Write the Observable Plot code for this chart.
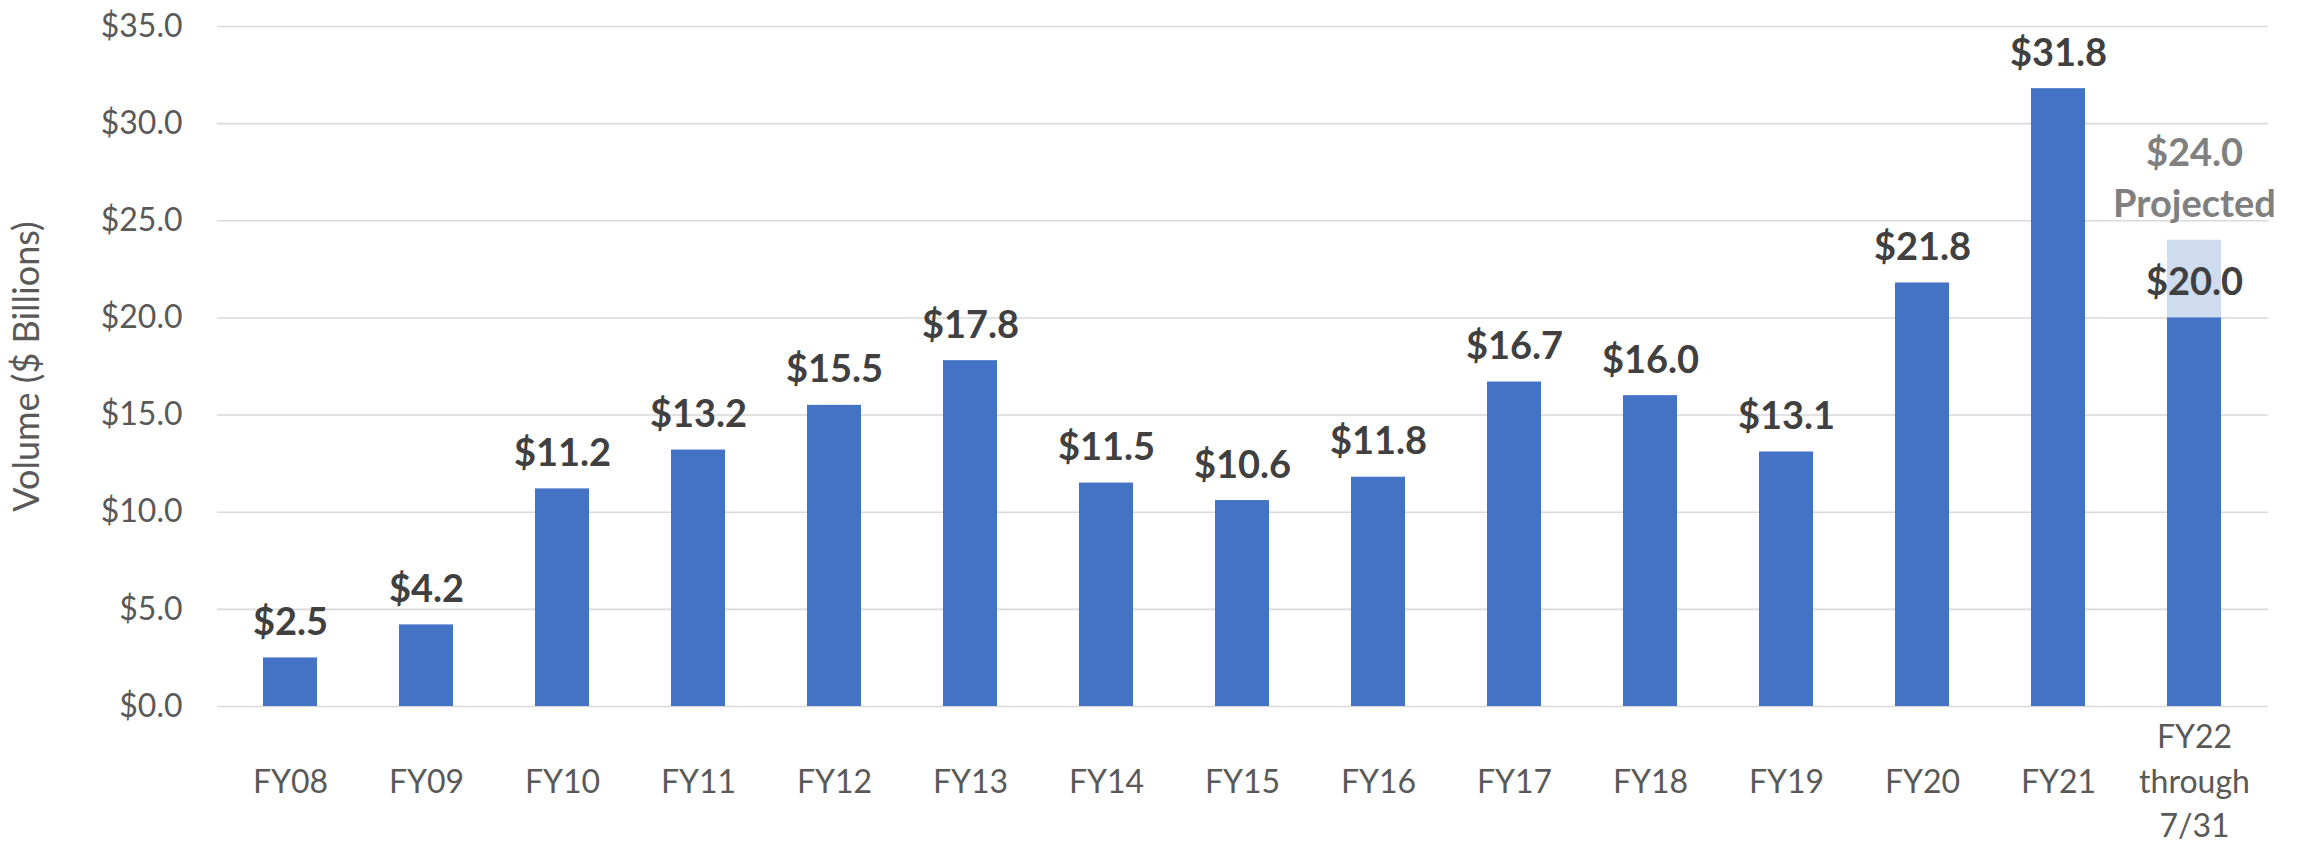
<!DOCTYPE html>
<html>
<head>
<meta charset="utf-8">
<script src="https://cdn.jsdelivr.net/npm/d3@7"></script>
<script src="https://cdn.jsdelivr.net/npm/@observablehq/plot@0.6"></script>
<style>
  html, body { margin: 0; padding: 0; background: #ffffff; }
  #chart svg { display: block; }
</style>
</head>
<body>
<div id="chart"></div>
<script>
// ---- data ----
const categories = ["FY08","FY09","FY10","FY11","FY12","FY13","FY14","FY15","FY16","FY17","FY18","FY19","FY20","FY21","FY22\nthrough\n7/31"];
const volumes = [2.5, 4.2, 11.2, 13.2, 15.5, 17.8, 11.5, 10.6, 11.8, 16.7, 16.0, 13.1, 21.8, 31.8, 20.0];
const projectedCategory = ["FY22\nthrough\n7/31"];
const projectedValue = [24.0];
const projectedLabel = ["Projected"];
const yTicks = [0, 5, 10, 15, 20, 25, 30, 35];
const yTitle = "Volume ($ Billions)";

const rows = categories.map((c, i) => ({cat: c, value: volumes[i]}));
const projRows = projectedCategory.map((c, i) => ({cat: c, value: projectedValue[i], label: projectedLabel[i]}));
const money = v => "$" + v.toFixed(1);

const chart = Plot.plot({
  width: 2310,
  height: 841,
  marginLeft: 217,
  marginRight: 42,
  marginTop: 26,
  marginBottom: 135,
  style: {fontFamily: "Lato, 'Open Sans', sans-serif", background: "#ffffff"},
  x: {domain: categories, paddingInner: 0.6, paddingOuter: 0.3, axis: null},
  y: {domain: [0, 35], axis: null},
  marks: [
    Plot.gridY(yTicks, {stroke: "#d9d9d9", strokeOpacity: 1, strokeWidth: 1.6}),
    Plot.axisY(yTicks, {
      tickSize: 0, tickPadding: 35, fontSize: 32, fill: "#595959",
      tickFormat: money, label: null
    }),
    Plot.text([yTitle], {
      frameAnchor: "left", dx: -190, rotate: -90, text: d => d,
      textAnchor: "middle", lineAnchor: "middle",
      fontSize: 36, fill: "#595959"
    }),
    Plot.barY(projRows, {x: "cat", y: "value", fill: "#cfdcef"}),
    Plot.barY(rows, {x: "cat", y: "value", fill: "#4472c4"}),
    Plot.text(rows, {
      x: "cat", y: "value", text: d => money(d.value),
      lineAnchor: "bottom", dy: -23, fontSize: 38, fontWeight: "bold", fill: "#404040"
    }),
    Plot.text(projRows, {
      x: "cat", y: "value", text: d => money(d.value) + "\n" + d.label,
      lineAnchor: "bottom", dy: -23, lineHeight: 1.36, fontSize: 38, fontWeight: "bold", fill: "#808080"
    }),
    Plot.text(rows, {
      x: "cat", y: () => 0, text: "cat",
      lineAnchor: "middle", dy: 72, lineHeight: 1.38, fontSize: 32, fill: "#595959"
    })
  ]
});
document.getElementById("chart").appendChild(chart);
</script>
</body>
</html>
